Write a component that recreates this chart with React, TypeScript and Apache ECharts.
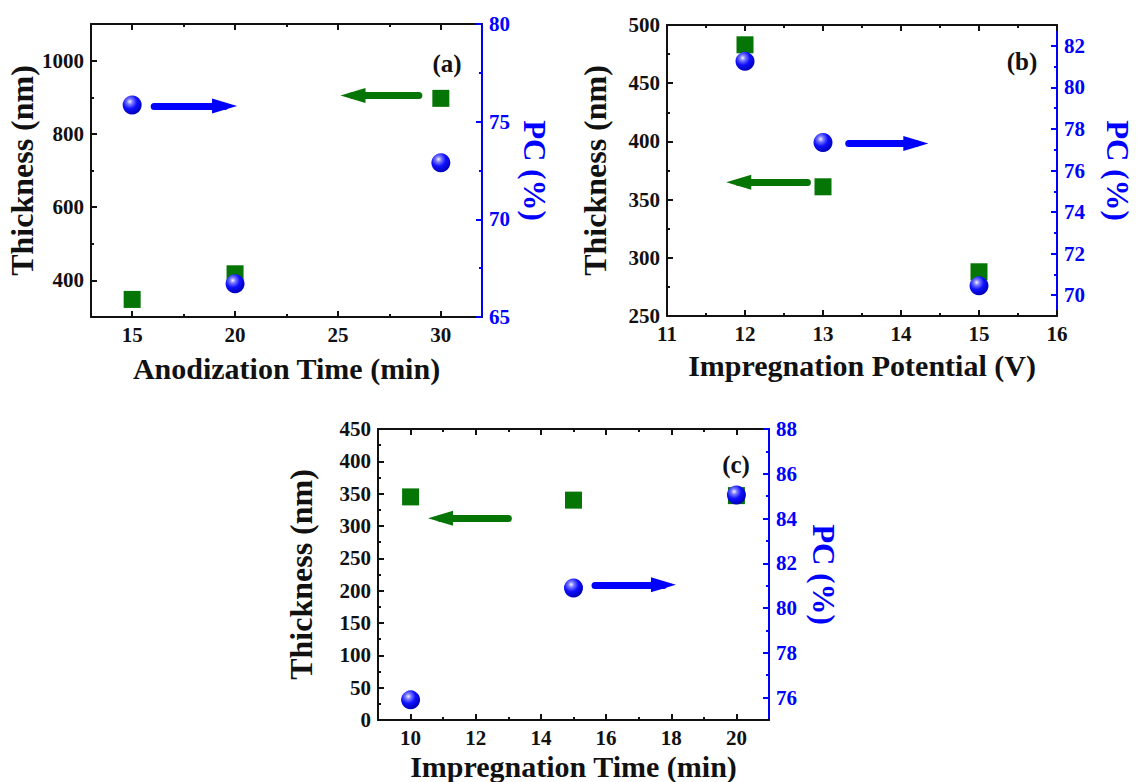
import React, { useEffect, useRef } from "react";
import * as echarts from "echarts";

// ---------- Panel (a) ----------
const anodizationTime = [15, 20, 30];
const thicknessA = [348, 418, 897];
const pcA = [75.85, 66.7, 72.9];
const xTicksA = [15, 20, 25, 30];
const xMinorA = [17.5, 22.5, 27.5];
const yLeftTicksA = [400, 600, 800, 1000];
const yLeftMinorA = [500, 700, 900];
const yRightTicksA = [65, 70, 75, 80];
const yRightMinorA = [67.5, 72.5, 77.5];
const arrowPcA = [[16.07, 75.8], [19.49, 75.8]];
const arrowThickA = [[28.93, 905], [25.73, 905]];

// ---------- Panel (b) ----------
const impregnationPotential = [12, 13, 15];
const thicknessB = [483, 361, 288];
const pcB = [81.25, 77.35, 70.45];
const xTicksB = [11, 12, 13, 14, 15, 16];
const xMinorB = [11.5, 12.5, 13.5, 14.5, 15.5];
const yLeftTicksB = [250, 300, 350, 400, 450, 500];
const yLeftMinorB = [275, 325, 375, 425, 475];
const yRightTicksB = [70, 72, 74, 76, 78, 80, 82];
const yRightMinorB = [71, 73, 75, 77, 79, 81];
const arrowPcB = [[13.33, 77.3], [14.19, 77.3]];
const arrowThickB = [[12.8, 365], [11.92, 365]];

// ---------- Panel (c) ----------
const impregnationTime = [10, 15, 20];
const thicknessC = [345, 340, 347];
const pcC = [75.9, 80.9, 85.05];
const xTicksC = [10, 12, 14, 16, 18, 20];
const xMinorC = [11, 13, 15, 17, 19];
const yLeftTicksC = [0, 50, 100, 150, 200, 250, 300, 350, 400, 450];
const yLeftMinorC = [25, 75, 125, 175, 225, 275, 325, 375, 425];
const yRightTicksC = [76, 78, 80, 82, 84, 86, 88];
const yRightMinorC = [77, 79, 81, 83, 85, 87];
const arrowThickC = [[13.0, 312], [10.92, 312]];
const arrowPcC = [[15.66, 81.04], [17.76, 81.04]];

const FONT = '"Liberation Serif", "Times New Roman", serif';
const BLACK = "#111111";
const BLUE = "#0000ff";
const GREEN = "#057505";

type Panel = {
  grid: { left: number; top: number; width: number; height: number };
  x: number[];
  thick: number[];
  pc: number[];
  xRange: [number, number];
  yLRange: [number, number];
  yRRange: [number, number];
  xTicks: number[];
  xMinor: number[];
  yLTicks: number[];
  yLMinor: number[];
  yRTicks: number[];
  yRMinor: number[];
  xName: string;
  xGap: number;
  yLGap: number;
  yRGap: number;
  arrowPc: number[][];
  arrowThick: number[][];
  tag: string;
  tagPos: [number, number];
};

const panels: Panel[] = [
  {
    grid: { left: 91, top: 24, width: 391, height: 293 },
    x: anodizationTime, thick: thicknessA, pc: pcA,
    xRange: [13, 32], yLRange: [300, 1100], yRRange: [65, 80],
    xTicks: xTicksA, xMinor: xMinorA, yLTicks: yLeftTicksA, yLMinor: yLeftMinorA,
    yRTicks: yRightTicksA, yRMinor: yRightMinorA,
    xName: "Anodization Time (min)", xGap: 36, yLGap: 50, yRGap: 37,
    arrowPc: arrowPcA, arrowThick: arrowThickA,
    tag: "(a)", tagPos: [447, 63],
  },
  {
    grid: { left: 667, top: 25, width: 390, height: 291 },
    x: impregnationPotential, thick: thicknessB, pc: pcB,
    xRange: [11, 16], yLRange: [250, 500], yRRange: [69, 83],
    xTicks: xTicksB, xMinor: xMinorB, yLTicks: yLeftTicksB, yLMinor: yLeftMinorB,
    yRTicks: yRightTicksB, yRMinor: yRightMinorB,
    xName: "Impregnation Potential (V)", xGap: 34, yLGap: 56, yRGap: 45,
    arrowPc: arrowPcB, arrowThick: arrowThickB,
    tag: "(b)", tagPos: [1022, 61],
  },
  {
    grid: { left: 378, top: 429, width: 391, height: 296 },
    x: impregnationTime, thick: thicknessC, pc: pcC,
    xRange: [9, 21], yLRange: [0, 450], yRRange: [75, 88],
    xTicks: xTicksC, xMinor: xMinorC, yLTicks: yLeftTicksC, yLMinor: yLeftMinorC,
    yRTicks: yRightTicksC, yRMinor: yRightMinorC,
    xName: "Impregnation Time (min)", xGap: 31, yLGap: 61, yRGap: 39,
    arrowPc: arrowPcC, arrowThick: arrowThickC,
    tag: "(c)", tagPos: [736, 464],
  },
];

const labelStyle = (color: string) => ({
  color,
  fontFamily: FONT,
  fontWeight: "bold" as const,
  fontSize: 21,
});

const nameStyle = (color: string, size: number) => ({
  color,
  fontFamily: FONT,
  fontWeight: "bold" as const,
  fontSize: size,
});

function axis(
  gridIndex: number,
  range: [number, number],
  position: string,
  color: string,
  ticks: number[],
  major: boolean,
  showLine: boolean,
  showLabels: boolean,
  extra: any = {}
) {
  return {
    type: "value",
    gridIndex,
    min: range[0],
    max: range[1],
    position,
    splitLine: { show: false },
    axisLine: { show: showLine, onZero: false, lineStyle: { color, width: 2 } },
    axisTick: {
      show: true,
      inside: true,
      length: major ? 6 : 3,
      customValues: ticks,
      lineStyle: { color, width: 2 },
    },
    axisLabel: showLabels
      ? {
          show: true,
          customValues: ticks,
          margin: 7,
          formatter: (v: number) => String(v),
          ...labelStyle(color),
        }
      : { show: false },
    ...extra,
  };
}

function arrowLine(pts: number[][], color: string) {
  return {
    silent: true,
    symbol: ["none", "triangle"],
    label: { show: false },
    emphasis: { disabled: true },
    lineStyle: { color, width: 7, type: "solid", cap: "round", opacity: 1 },
    data: [
      [
        { coord: pts[0], symbol: "none" },
        { coord: pts[1], symbol: "triangle", symbolSize: [15, 25] },
      ],
    ],
  };
}

function buildOption() {
  const grid: any[] = [];
  const xAxis: any[] = [];
  const yAxis: any[] = [];
  const series: any[] = [];
  const graphic: any[] = [];

  const sphere = new echarts.graphic.RadialGradient(0.38, 0.32, 0.68, [
    { offset: 0, color: "#f4f4ff" },
    { offset: 0.22, color: "#7a7aff" },
    { offset: 0.55, color: "#1010ff" },
    { offset: 1, color: "#0000b8" },
  ]);

  panels.forEach((p, i) => {
    grid.push({ ...p.grid, containLabel: false });
    xAxis.push(
      axis(i, p.xRange, "bottom", BLACK, p.xTicks, true, true, true, {
        name: p.xName,
        nameLocation: "middle",
        nameGap: p.xGap,
        nameTextStyle: nameStyle(BLACK, 30),
      })
    );
    xAxis.push(axis(i, p.xRange, "bottom", BLACK, p.xMinor, false, false, false));
    xAxis.push(axis(i, p.xRange, "top", BLACK, p.xTicks, true, true, false));
    xAxis.push(axis(i, p.xRange, "top", BLACK, p.xMinor, false, false, false));
    yAxis.push(
      axis(i, p.yLRange, "left", BLACK, p.yLTicks, true, true, true, {
        name: "Thickness (nm)",
        nameLocation: "middle",
        nameGap: p.yLGap,
        nameTextStyle: nameStyle(BLACK, 32),
      })
    );
    yAxis.push(axis(i, p.yLRange, "left", BLACK, p.yLMinor, false, false, false));
    yAxis.push(
      axis(i, p.yRRange, "right", BLUE, p.yRTicks, true, true, true, {
        name: "PC (%)",
        nameLocation: "middle",
        nameRotate: -90,
        nameGap: p.yRGap,
        nameTextStyle: nameStyle(BLUE, 31),
      })
    );
    yAxis.push(axis(i, p.yRRange, "right", BLUE, p.yRMinor, false, false, false));

    series.push({
      type: "scatter",
      name: "Thickness " + p.tag,
      xAxisIndex: i * 4,
      yAxisIndex: i * 4,
      symbol: "rect",
      symbolSize: 17,
      z: 2,
      itemStyle: { color: GREEN, opacity: 1 },
      data: p.x.map((x, k) => [x, p.thick[k]]),
      markLine: arrowLine(p.arrowThick, GREEN),
    });
    series.push({
      type: "scatter",
      name: "PC " + p.tag,
      xAxisIndex: i * 4,
      yAxisIndex: i * 4 + 2,
      symbol: "circle",
      symbolSize: 19,
      z: 3,
      itemStyle: { color: sphere, opacity: 1 },
      data: p.x.map((x, k) => [x, p.pc[k]]),
      markLine: arrowLine(p.arrowPc, BLUE),
    });

    graphic.push({
      type: "text",
      x: p.tagPos[0],
      y: p.tagPos[1],
      style: {
        text: p.tag,
        fill: BLACK,
        font: `bold 25px ${FONT}`,
        textAlign: "center",
        textVerticalAlign: "middle",
      },
    });
  });

  return {
    animation: false,
    backgroundColor: "#ffffff",
    grid,
    xAxis,
    yAxis,
    series,
    graphic,
  };
}

export default function App() {
  const ref = useRef<HTMLDivElement>(null);
  useEffect(() => {
    if (!ref.current) return;
    const chart = echarts.init(ref.current, undefined, { renderer: "svg" });
    chart.setOption(buildOption() as any);
    return () => chart.dispose();
  }, []);
  return (
    <div
      ref={ref}
      style={{
        position: "fixed",
        left: 0,
        top: 0,
        width: 1138,
        height: 782,
        background: "#fff",
      }}
    />
  );
}
